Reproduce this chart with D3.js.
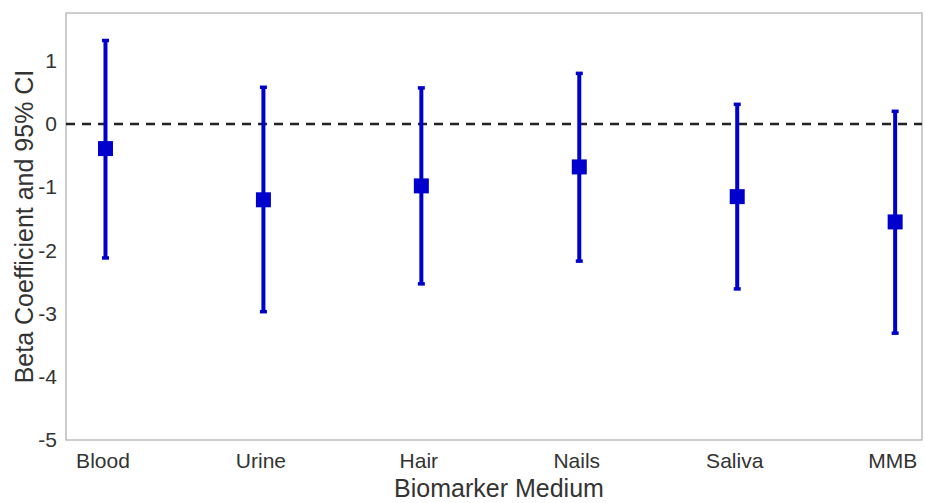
<!DOCTYPE html>
<html>
<head>
<meta charset="utf-8">
<script src="https://cdn.jsdelivr.net/npm/d3@7"></script>
<style>
  body { margin: 0; background: #fff; }
  svg { display: block; font-family: "Liberation Sans", Arial, sans-serif; }
</style>
</head>
<body>
<div id="chart"></div>
<script>
(function(){
  'use strict';

  // chart values
  var categories = ['Blood', 'Urine', 'Hair', 'Nails', 'Saliva', 'MMB'];
  var beta  = [-0.39, -1.20, -0.98, -0.68, -1.15, -1.55];
  var lower = [-2.12, -2.97, -2.53, -2.17, -2.61, -3.31];
  var upper = [ 1.32,  0.58,  0.57,  0.80,  0.31,  0.20];
  var yTicks = [-5, -4, -3, -2, -1, 0, 1];

  var width = 925, height = 503;
  var plot = { left: 66, right: 922, top: 13, bottom: 440 };
  var blue = '#0000cc';

  var svg = d3.select('#chart')
    .append('svg')
    .attr('width', width)
    .attr('height', height);

  var x = d3.scaleLinear()
    .domain([-0.25, 5.17])
    .range([plot.left, plot.right]);

  var y = d3.scaleLinear()
    .domain([-5, 1.755])
    .range([plot.bottom, plot.top]);

  // frame
  svg.append('rect')
    .attr('x', plot.left)
    .attr('y', plot.top)
    .attr('width', plot.right - plot.left)
    .attr('height', plot.bottom - plot.top)
    .attr('fill', 'none')
    .attr('stroke', '#bdbdbd')
    .attr('stroke-width', 1.5);

  // y axis (labels only), plain hyphen for negatives like the original
  var yAxis = svg.append('g')
    .attr('transform', 'translate(' + plot.left + ',0)')
    .call(d3.axisLeft(y).tickValues(yTicks).tickSize(0).tickPadding(9)
      .tickFormat(function(d) { return String(d); }));
  yAxis.select('.domain').remove();
  yAxis.selectAll('text')
    .attr('font-size', 21)
    .attr('fill', '#333')
    .style('font-family', '"Liberation Sans", Arial, sans-serif');

  // x axis (labels only)
  var xAxis = svg.append('g')
    .attr('transform', 'translate(0,' + plot.bottom + ')')
    .call(d3.axisBottom(x).tickValues(d3.range(categories.length)).tickSize(0).tickPadding(13)
      .tickFormat(function(i) { return categories[i]; }));
  xAxis.select('.domain').remove();
  xAxis.selectAll('text')
    .attr('font-size', 21)
    .attr('fill', '#333')
    .attr('dx', -3)
    .style('font-family', '"Liberation Sans", Arial, sans-serif');

  // zero reference line
  svg.append('line')
    .attr('x1', plot.left)
    .attr('x2', plot.right)
    .attr('y1', y(0))
    .attr('y2', y(0))
    .attr('stroke', '#222')
    .attr('stroke-width', 2.5)
    .attr('stroke-dasharray', '9,7');

  var data = categories.map(function(c, i) {
    return { name: c, i: i, beta: beta[i], lo: lower[i], hi: upper[i] };
  });

  var g = svg.selectAll('g.est')
    .data(data).enter()
    .append('g')
    .attr('class', 'est');

  // CI whiskers
  g.append('line')
    .attr('x1', function(d) { return x(d.i); })
    .attr('x2', function(d) { return x(d.i); })
    .attr('y1', function(d) { return y(d.lo); })
    .attr('y2', function(d) { return y(d.hi); })
    .attr('stroke', blue)
    .attr('stroke-width', 4);

  // caps
  ['lo', 'hi'].forEach(function(k) {
    g.append('line')
      .attr('x1', function(d) { return x(d.i) - 3.5; })
      .attr('x2', function(d) { return x(d.i) + 3.5; })
      .attr('y1', function(d) { return y(d[k]); })
      .attr('y2', function(d) { return y(d[k]); })
      .attr('stroke', blue)
      .attr('stroke-width', 3.5);
  });

  // point estimates
  g.append('rect')
    .attr('x', function(d) { return x(d.i) - 7.5; })
    .attr('y', function(d) { return y(d.beta) - 7.5; })
    .attr('width', 15)
    .attr('height', 15)
    .attr('fill', blue);

  // axis titles
  svg.append('text')
    .attr('x', (plot.left + plot.right) / 2 + 5)
    .attr('y', 497)
    .attr('text-anchor', 'middle')
    .attr('font-size', 25)
    .attr('fill', '#333')
    .text('Biomarker Medium');

  svg.append('text')
    .attr('transform', 'translate(33,' + ((plot.top + plot.bottom) / 2) + ') rotate(-90)')
    .attr('text-anchor', 'middle')
    .attr('font-size', 25)
    .attr('fill', '#333')
    .text('Beta Coefficient and 95% CI');
})();
</script>
</body>
</html>
